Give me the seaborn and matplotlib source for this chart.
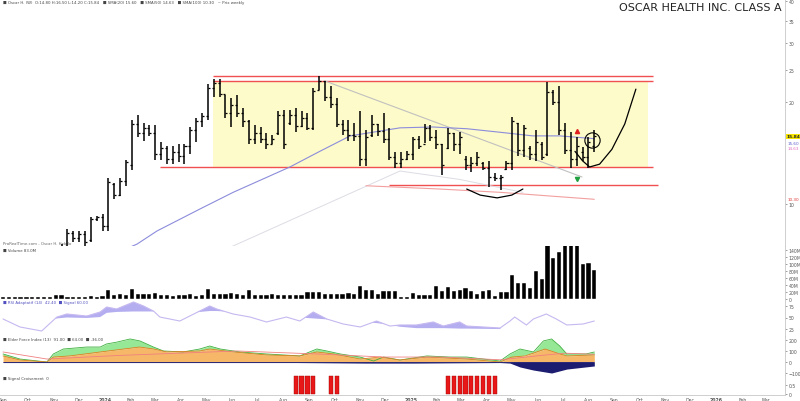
import numpy as np
import pandas as pd
import matplotlib
matplotlib.use("Agg")
import matplotlib.pyplot as plt
import matplotlib.dates as mdates
import matplotlib.transforms as mtransforms
import seaborn as sns

sns.set_style("white")
plt.rcParams["font.family"] = ["DejaVu Sans"]

# weekly bars, Friday dates
week_dates = pd.date_range("2023-09-01", periods=102, freq="7D")

highs = [6.3, 6.4, 6.5, 6.2, 6.0, 6.0, 6.3, 6.5, 6.6, 7.2, 7.6, 8.4, 8.3, 8.3, 8.3, 9.1, 9.2, 9.3,
         11.9, 11.5, 11.9, 13.5, 17.7, 18.3, 17.4, 17.1, 17.1, 15.3, 14.8, 14.8, 15.0, 15.0, 16.9, 18.0,
         18.6, 22.7, 23.5, 23.5, 21.1, 20.6, 21.1, 19.2, 17.7, 17.1, 16.9, 16.2, 16.0, 18.8, 19.0, 19.0,
         19.2, 18.8, 18.6, 22.0, 24.0, 23.2, 22.3, 20.6, 17.7, 17.7, 17.4, 18.8, 16.5, 18.3, 17.3, 18.6,
         16.8, 14.2, 14.2, 14.3, 15.8, 15.9, 17.3, 17.1, 16.5, 15.0, 16.8, 16.2, 16.3, 13.9, 13.8, 14.2,
         13.3, 13.4, 12.3, 12.2, 13.4, 18.1, 17.4, 17.1, 14.8, 16.5, 15.3, 23.0, 21.7, 22.3, 17.4, 16.3,
         15.8, 14.7, 15.8, 16.5]
lows = [5.6, 5.8, 5.9, 5.6, 5.4, 5.4, 5.7, 5.9, 6.0, 6.3, 6.8, 7.4, 7.7, 7.7, 7.5, 7.7, 8.9, 8.3,
        8.3, 10.3, 10.5, 11.3, 12.6, 15.8, 15.4, 15.9, 13.5, 13.5, 13.1, 13.1, 13.3, 13.1, 14.0, 15.3,
        16.9, 17.7, 20.8, 20.8, 18.0, 16.9, 18.1, 16.9, 15.0, 15.0, 15.1, 14.5, 15.0, 16.0, 14.5, 17.1,
        16.3, 16.9, 16.5, 16.5, 21.7, 20.2, 19.2, 16.9, 16.0, 15.4, 15.4, 12.9, 12.9, 15.8, 15.9, 15.1,
        13.5, 12.8, 12.8, 13.5, 13.5, 14.5, 15.1, 15.4, 14.5, 12.2, 14.5, 14.3, 14.0, 12.6, 12.4, 12.9,
        12.6, 11.2, 11.7, 11.0, 12.6, 12.6, 13.9, 13.8, 13.5, 13.4, 13.5, 13.9, 19.6, 16.0, 14.0, 12.8,
        12.9, 13.4, 12.8, 14.2]
opens = [5.8, 6.0, 6.2, 6.0, 5.8, 5.6, 5.8, 6.1, 6.3, 6.4, 7.0, 7.5, 8.2, 7.9, 8.1, 7.8, 9.0, 9.1,
         8.6, 11.4, 10.6, 11.7, 13.0, 17.3, 16.2, 16.8, 16.2, 14.0, 14.6, 13.6, 14.2, 13.9, 14.8, 16.5,
         17.6, 18.2, 22.0, 22.9, 21.2, 18.6, 19.6, 18.6, 17.6, 15.6, 16.2, 15.6, 15.0, 16.2, 18.3, 17.4,
         18.4, 17.0, 18.0, 16.8, 21.8, 23.2, 20.8, 19.8, 17.2, 16.6, 16.0, 15.9, 13.6, 16.0, 17.2, 16.4,
         15.6, 13.8, 13.2, 13.6, 14.0, 15.6, 15.0, 16.8, 15.8, 15.0, 14.6, 16.2, 15.0, 13.6, 13.0, 13.2,
         13.2, 12.8, 12.0, 11.9, 12.7, 13.2, 17.4, 14.4, 14.6, 14.0, 15.0, 14.0, 21.5, 20.0, 16.6, 14.4,
         13.6, 14.2, 13.8, 14.8]
closes = [6.0, 6.2, 6.0, 5.8, 5.6, 5.8, 6.1, 6.3, 6.4, 7.0, 7.4, 8.2, 7.9, 8.1, 7.7, 9.0, 9.1, 8.6,
          11.6, 10.6, 11.7, 13.3, 17.3, 16.2, 16.8, 16.2, 14.0, 14.6, 13.6, 14.2, 13.9, 14.8, 16.5, 17.6,
          18.2, 22.0, 22.9, 21.2, 18.6, 19.6, 18.6, 17.6, 15.6, 16.2, 15.6, 15.0, 15.6, 18.3, 15.0, 18.4,
          17.0, 18.0, 16.8, 21.6, 23.2, 20.8, 19.8, 17.2, 16.6, 16.0, 15.9, 13.6, 15.8, 17.2, 16.4, 15.6,
          13.8, 13.2, 13.6, 14.0, 15.6, 14.8, 16.8, 15.8, 15.0, 13.0, 16.2, 15.0, 15.8, 13.0, 13.2, 13.8,
          12.8, 12.0, 11.9, 12.0, 13.2, 17.6, 14.4, 16.8, 14.0, 15.2, 13.8, 21.5, 20.0, 16.6, 14.4, 13.6,
          14.8, 13.8, 15.2, 15.84]
volume_m = [7, 6, 7, 7, 6, 7, 7, 6, 7, 12, 12, 7, 7, 6, 7, 8, 7, 8, 25, 12, 13, 11, 27, 15, 15, 14,
            18, 10, 10, 9, 10, 10, 15, 9, 10, 28, 15, 14, 15, 16, 14, 10, 25, 12, 11, 12, 13, 12, 11,
            12, 12, 12, 20, 20, 19, 15, 15, 14, 15, 16, 14, 37, 26, 26, 14, 22, 22, 22, 7, 7, 17, 12,
            12, 12, 36, 22, 33, 22, 26, 31, 22, 15, 22, 26, 9, 20, 20, 68, 44, 44, 31, 79, 56, 160,
            115, 132, 170, 155, 165, 100, 103, 83]

# moving averages (week index, value)
sma_blue_idx = [15, 22.9, 26.3, 33.6, 39.3, 49.0, 54.1, 59.3, 67.8, 73.4, 79.2, 84.9, 90.5, 95.1, 101]
sma_blue_val = [6.6, 7.58, 8.29, 9.63, 10.8, 12.85, 14.3, 15.9, 16.8, 16.9, 16.7, 16.3, 15.9, 15.9, 15.6]
sma_gray_idx = [36, 39.3, 67.8, 78, 88.8]
sma_gray_val = [7.1, 7.48, 12.5, 11.8, 10.8]
sma_red_idx = [62, 74.6, 85, 101]
sma_red_val = [11.3, 11.05, 10.8, 10.3]

# oscillator 1 (week index, value) and its fill base
osc1_idx = [0, 2.9, 6.6, 9.2, 10.9, 14.3, 16.6, 17.7, 19.4, 22.3, 24, 25.7, 26.8, 30.2, 33.6, 35.3,
            36.5, 39.3, 42.2, 45, 48.4, 50.7, 53, 55.3, 58.1, 61, 63.8, 66.1, 67.8, 70.6, 73.5, 75.2,
            78, 79.2, 84.9, 86.6, 87.4, 89.4, 90.6, 92.8, 94.5, 96.3, 99.1, 101]
osc1_val = [46.8, 29.5, 20.8, 51, 57.6, 53.2, 61.9, 72.7, 68.4, 83.5, 74.9, 64, 51, 42.4, 64, 74.9,
            68.4, 57.6, 51, 40.3, 51, 42.4, 61.9, 46.8, 36, 29.5, 42.4, 31.6, 33.8, 33.8, 40.3, 31.6,
            40.3, 31.6, 27.3, 42.4, 51, 33.8, 46.8, 57.6, 46.8, 33.8, 36, 42.4]
osc1_base = [48, 42, 38, 48, 50, 49, 51, 60, 62, 63, 63, 63, 60, 58, 62, 64,
             64, 62, 58, 55, 52, 50, 48, 46, 44, 40, 38, 34, 30, 27, 27, 27,
             26, 26, 25, 60, 60, 60, 60, 60, 60, 60, 60, 60]

# oscillator 2 (week index, value)
osc2_green_idx = [0, 2.9, 7.5, 8.6, 10.3, 14.3, 16.6, 17.7, 19.4, 21.7, 23.4, 25.7, 27.4, 30.8, 33.6,
                  35.3, 37.1, 40.5, 45, 50.7, 53.6, 55.3, 57.6, 61, 63.3, 65, 67.8, 72.4, 76.3, 79.2,
                  84.9, 86.6, 88.3, 90.6, 92.3, 93.7, 95.1, 96.3, 99.6, 101]
osc2_green_val = [73, 27, 0, 73, 118, 136, 136, 164, 180, 209, 191, 136, 100, 91, 118, 145, 118, 91,
                  73, 55, 118, 100, 73, 45, 9, 45, 18, 55, 45, 45, 9, 73, 118, 91, 191, 209, 145, 73,
                  73, 91]
osc2_orange_idx = [0, 2.9, 7.5, 8.6, 11.4, 16.6, 23.3, 25.7, 28, 33.6, 35.3, 39.3, 45, 50.7, 53.6,
                   56.4, 61, 64.4, 67.8, 72.4, 79.2, 84.9, 86.9, 89.2, 92.6, 95.1, 96.3, 101]
osc2_orange_val = [55, 18, 0, 45, 55, 91, 136, 118, 91, 100, 118, 91, 64, 55, 91, 73, 27, 45, 18, 45,
                   27, 0, 45, 55, 118, 73, 55, 64]
osc2_navy_idx = [0, 50, 62, 70, 84.9, 86.6, 88.3, 90.6, 93.7, 96.3, 101]
osc2_navy_val = [-5, -5, -10, -10, -5, -10, -45, -73, -100, -64, -36]
osc2_pink_idx = [0, 7.5, 20, 40, 55, 65, 75, 85, 92, 96, 101]
osc2_pink_val = [91, 27, 60, 100, 70, 45, 45, 20, 60, 80, 70]

# signal bars
signal_weeks = [50, 51, 52, 53, 56, 57, 76, 77, 78, 79, 80, 81, 82, 83, 84]

# drawings (week index / price)
box_weeks = (35.9, 110.1)
box_prices = (12.85, 23.16)
top_lines = [23.96, 23.16]
support_line = 12.85
lower_line = 11.36
trend_idx = [55, 98.9]
trend_val = [23.16, 12.0]
smile_idx = [79.2, 81.5, 84.4, 86.9, 88.8]
smile_val = [11.05, 10.6, 10.4, 10.6, 11.05]
cup_idx = [97.7, 99, 100.2, 101.9, 104, 106.2, 108.1]
cup_val = [14.3, 13.4, 12.85, 13.1, 14.5, 17.25, 21.9]


def wk(idx):
    return week_dates[0] + pd.to_timedelta(np.asarray(idx, dtype=float) * 7, unit="D")


fig = plt.figure(figsize=(8.0, 4.02), dpi=100)
H = 402.0


def add_panel(top, bottom):
    return fig.add_axes([0.0, 1 - bottom / H, 785 / 800, (bottom - top) / H])


ax = add_panel(0, 247)
axv = add_panel(247, 300)
ax1 = add_panel(300, 337)
ax2 = add_panel(337, 376)
ax3 = add_panel(376, 396)
axes = [ax, axv, ax1, ax2, ax3]

xmin = week_dates[0] - pd.Timedelta(days=3.6)
xmax = week_dates[0] + pd.Timedelta(days=935)
grey = "#555555"

# ---- price panel ----
ax.set_yscale("log")
ax.set_ylim(7.48, 40.6)
ax.fill_between(wk(box_weeks), box_prices[0], box_prices[1], color="#fdfbc9", zorder=0, lw=0)
for p in top_lines:
    ax.hlines(p, wk(box_weeks[0]), wk(111), color="#f05050", lw=1.0, zorder=1)
ax.hlines(support_line, wk(26.8), wk(111), color="#f05050", lw=1.0, zorder=1)
ax.hlines(lower_line, wk(66), wk(111.9), color="#f05050", lw=1.0, zorder=1)

sns.lineplot(x=wk(trend_idx), y=trend_val, ax=ax, color="#c0c0c0", lw=0.8, zorder=2)
sns.lineplot(x=wk(sma_gray_idx), y=sma_gray_val, ax=ax, color="#dcdce4", lw=0.7, zorder=2)
sns.lineplot(x=wk(sma_blue_idx), y=sma_blue_val, ax=ax, color="#8c8cdc", lw=0.8, zorder=2)
sns.lineplot(x=wk(sma_red_idx), y=sma_red_val, ax=ax, color="#f2a0a0", lw=0.8, zorder=2)

dt = pd.Timedelta(days=2.4)
ax.vlines(week_dates, lows, highs, color="black", lw=1.1, zorder=4)
ax.hlines(opens, week_dates - dt, week_dates, color="black", lw=0.9, zorder=4)
ax.hlines(closes, week_dates, week_dates + dt, color="black", lw=0.9, zorder=4)

sns.lineplot(x=wk(smile_idx), y=smile_val, ax=ax, color="black", lw=0.9, zorder=5)
sns.lineplot(x=wk(cup_idx), y=cup_val, ax=ax, color="black", lw=0.9, zorder=5)
ax.plot(wk([100.6]), [15.45], marker="o", ms=11, mfc="none", mec="black", mew=0.8, zorder=5)
ax.plot(wk([98]), [16.4], marker="^", ms=3, color="#e02020", zorder=5)
ax.plot(wk([98]), [11.8], marker="v", ms=3, color="#20a040", zorder=5)

ax.yaxis.set_major_locator(matplotlib.ticker.FixedLocator([10, 20, 25, 30, 35, 40]))
ax.yaxis.set_minor_locator(matplotlib.ticker.NullLocator())
ax.yaxis.set_major_formatter(matplotlib.ticker.FormatStrFormatter("%d"))

tr = mtransforms.blended_transform_factory(ax.transAxes, ax.transData)
ax.text(1.002, closes[-1], f"{closes[-1]:.2f}", transform=tr, fontsize=3.2, weight="bold",
        va="center", ha="left", bbox=dict(boxstyle="square,pad=0.12", fc="#f5e400", ec="none"))
ax.text(1.003, 15.1, f"{sma_blue_val[-1]:.2f}", transform=tr, fontsize=3.0, color="#6060d0",
        va="center", ha="left")
ax.text(1.003, 14.6, "14.63", transform=tr, fontsize=3.0, color="#e070c0", va="center", ha="left")
ax.text(1.003, sma_red_val[-1], f"{sma_red_val[-1]:.2f}", transform=tr, fontsize=3.0,
        color="#e03030", va="center", ha="left")

ax.text(0.004, 0.995, "■ Oscar H. (W)  O:14.80 H:16.50 L:14.20 C:15.84   ■ SMA(20) 15.60   "
        "■ SMA(50) 14.63   ■ SMA(100) 10.30   ~ Prix weekly", transform=ax.transAxes,
        fontsize=2.8, color="#444444", va="top")
ax.text(0.004, 0.005, "ProRealTime.com - Oscar H. Hebdo", transform=ax.transAxes,
        fontsize=2.8, color="#666666", va="bottom")
fig.text(0.977, 0.993, "OSCAR HEALTH INC. CLASS A", ha="right", va="top", fontsize=8.0,
         color="#222222")

# ---- volume panel ----
axv.bar(week_dates, volume_m, width=5.0, color="black", edgecolor="white", lw=0.3)
axv.set_ylim(0, 150)
axv.set_yticks([0, 20, 40, 60, 80, 100, 120, 140])
axv.set_yticklabels(["0", "20M", "40M", "60M", "80M", "100M", "120M", "140M"])
axv.text(0.004, 0.97, "■ Volume 83.0M", transform=axv.transAxes, fontsize=2.8, color="#444444",
         va="top")

# ---- oscillator 1 ----
x1 = wk(osc1_idx)
ax1.fill_between(x1, osc1_base, osc1_val, where=np.array(osc1_val) >= np.array(osc1_base),
                 interpolate=True, color="#b4aef0", lw=0)
sns.lineplot(x=x1, y=osc1_val, ax=ax1, color="#c6b8f0", lw=0.8)
ax1.set_ylim(10, 90)
ax1.set_yticks([25, 50, 75])
ax1.text(0.004, 0.97, "■ RSI Adaptatif (14)  42.40  ■ Signal 60.00", transform=ax1.transAxes,
         fontsize=2.8, color="#5050c0", va="top")

# ---- oscillator 2 ----
xg = wk(osc2_green_idx)
xo = wk(osc2_orange_idx)
xn = wk(osc2_navy_idx)
orange_on_green = np.interp(osc2_green_idx, osc2_orange_idx, osc2_orange_val)
ax2.fill_between(xg, orange_on_green, osc2_green_val, color="#96e896", lw=0)
sns.lineplot(x=xg, y=osc2_green_val, ax=ax2, color="#40b040", lw=0.6)
ax2.fill_between(xo, 0, osc2_orange_val, color="#f6b868", lw=0)
sns.lineplot(x=xo, y=osc2_orange_val, ax=ax2, color="#e08020", lw=0.6)
ax2.fill_between(xn, 0, osc2_navy_val, color="#1c1c70", lw=0)
sns.lineplot(x=wk(osc2_pink_idx), y=osc2_pink_val, ax=ax2, color="#f08080", lw=0.6)
ax2.hlines(0, wk(0), wk(101), color="#1c1c70", lw=0.6)
ax2.set_ylim(-118, 236)
ax2.set_yticks([-100, 0, 100, 200])
ax2.text(0.004, 0.97, "■ Elder Force Index (13)  91.00  ■ 64.00  ■ -36.00", transform=ax2.transAxes,
         fontsize=2.8, color="#444444", va="top")

# ---- signal panel ----
ax3.bar(wk(signal_weeks), [1] * len(signal_weeks), width=5.0, color="#e81818",
        edgecolor="#a00000", lw=0.3)
ax3.set_ylim(-0.05, 1.05)
ax3.set_yticks([0, 0.5])
ax3.set_yticklabels(["0", "0.5"])
ax3.text(0.004, 0.93, "■ Signal Croisement  0", transform=ax3.transAxes, fontsize=2.8,
         color="#444444", va="top")

# common styling
for a in axes:
    a.set_xlim(xmin, xmax)
    a.set_xlabel("")
    a.set_ylabel("")
    a.yaxis.tick_right()
    a.tick_params(axis="y", labelsize=3.3, colors=grey, length=1.5, width=0.4, pad=1)
    a.tick_params(axis="x", length=0, labelbottom=False)
    for s in a.spines.values():
        s.set_color("#c8c8c8")
        s.set_linewidth(0.6)
    a.spines["left"].set_visible(False)
    a.spines["top"].set_visible(False)

ax3.xaxis.set_major_locator(mdates.MonthLocator())
ax3.xaxis.set_major_formatter(matplotlib.ticker.FuncFormatter(
    lambda v, pos: mdates.num2date(v).strftime("%Y") if mdates.num2date(v).month == 1
    else mdates.num2date(v).strftime("%b")))
ax3.tick_params(axis="x", labelsize=3.3, colors=grey, length=0, pad=1.2, labelbottom=True)
for lab in ax3.get_xticklabels():
    if lab.get_text().isdigit():
        lab.set_fontweight("bold")

fig.savefig("out.png", dpi=100)
